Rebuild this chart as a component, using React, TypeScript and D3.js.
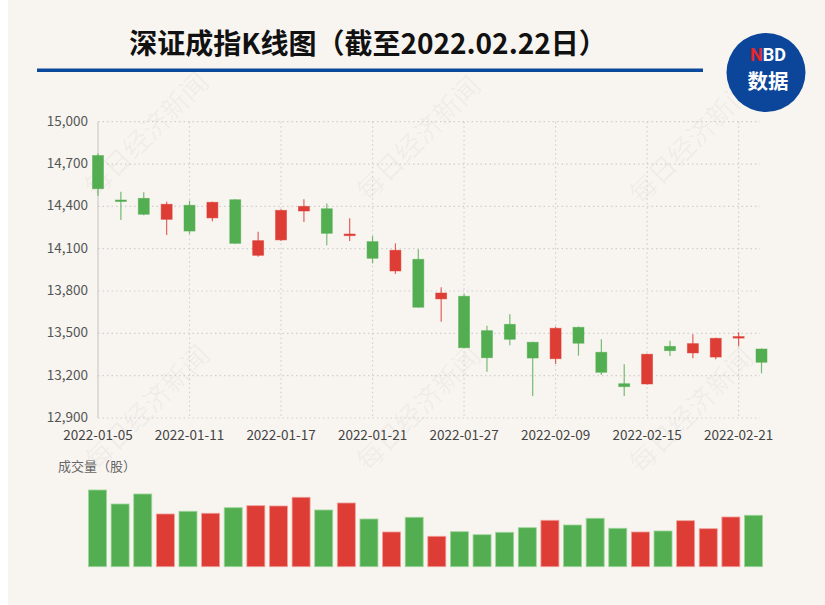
import * as d3 from "d3";

const DATES = [
  "2022-01-05", "2022-01-06", "2022-01-07", "2022-01-10", "2022-01-11", "2022-01-12",
  "2022-01-13", "2022-01-14", "2022-01-17", "2022-01-18", "2022-01-19", "2022-01-20",
  "2022-01-21", "2022-01-24", "2022-01-25", "2022-01-26", "2022-01-27", "2022-01-28",
  "2022-02-07", "2022-02-08", "2022-02-09", "2022-02-10", "2022-02-11", "2022-02-14",
  "2022-02-15", "2022-02-16", "2022-02-17", "2022-02-18", "2022-02-21", "2022-02-22",
];
const OPEN = [
  14760, 14445, 14457, 14308, 14408, 14318, 14447, 14053, 14162, 14367, 14383, 14192, 14150, 13942, 14025,
  13744, 13763, 13519, 13564, 13437, 13320, 13543, 13366, 13143, 13141, 13408, 13361, 13332, 13467, 13389,
];
const CLOSE = [
  14525, 14438, 14344, 14415, 14225, 14429, 14138, 14157, 14372, 14400, 14209, 14204, 14032, 14089, 13685,
  13786, 13398, 13327, 13458, 13325, 13536, 13430, 13224, 13122, 13352, 13377, 13427, 13465, 13477, 13295,
];
const HIGH = [
  14775, 14504, 14500, 14433, 14440, 14432, 14450, 14220, 14380, 14450, 14420, 14315, 14190, 14138, 14096,
  13826, 13779, 13554, 13635, 13440, 13547, 13548, 13458, 13281, 13355, 13448, 13493, 13468, 13508, 13392,
];
const LOW = [
  14475, 14303, 14337, 14197, 14204, 14294, 14135, 14043, 14155, 14290, 14124, 14154, 13996, 13921, 13683,
  13583, 13395, 13228, 13415, 13056, 13283, 13342, 13205, 13056, 13138, 13339, 13323, 13316, 13408, 13217,
];
// 成交量（亿股，按图估读）
const VOLUME = [
  537, 439, 509, 369, 388, 374, 413, 427, 425, 486, 397, 446, 334, 243, 346,
  213, 245, 224, 241, 273, 325, 292, 339, 269, 243, 250, 322, 266, 348, 360,
];
const Y_TICKS = [12900, 13200, 13500, 13800, 14100, 14400, 14700, 15000];
const X_LABELS = [
  "2022-01-05", "2022-01-11", "2022-01-17", "2022-01-21",
  "2022-01-27", "2022-02-09", "2022-02-15", "2022-02-21",
];

const BG = "#f8f5f1";
const UP = "#dd3d35";
const DOWN = "#53ad51";
const FONT = "'Noto Sans CJK SC', 'Noto Sans', sans-serif";

export default function App() {
  const plot = { left: 98, right: 760, top: 121.7, bottom: 418 };

  const x = d3.scalePoint<string>().domain(DATES).range([98, 761.5]);
  const y = d3.scaleLinear().domain([12900, 15000]).range([plot.bottom, plot.top]);
  const xv = d3.scalePoint<string>().domain(DATES).range([97.5, 753.5]);
  const yv = d3.scaleLinear().domain([0, 560]).range([566.7, 486.7]);

  const candles = DATES.map((d, i) => ({
    date: d,
    open: OPEN[i],
    close: CLOSE[i],
    high: HIGH[i],
    low: LOW[i],
    vol: VOLUME[i],
    up: CLOSE[i] >= OPEN[i],
  }));

  const watermarks: [number, number][] = [
    [145, 133], [417, 137], [690, 140],
    [146, 406], [417, 407], [690, 409],
  ];

  return (
    <svg
      width={825}
      height={605}
      style={{ position: "absolute", left: 0, top: 0, display: "block" }}
    >
      <rect x={0} y={0} width={825} height={605} fill="#ffffff" />
      <rect x={8} y={0} width={817} height={605} fill={BG} />

      {/* watermark */}
      {watermarks.map(([cx, cy], i) => (
        <text
          key={i}
          transform={`translate(${cx},${cy}) rotate(-45)`}
          textAnchor="middle"
          dominantBaseline="central"
          fontFamily={FONT}
          fontSize={27}
          fill="#000"
          fillOpacity={0.05}
        >
          每日经济新闻
        </text>
      ))}

      {/* title */}
      <text
        x={368}
        y={54}
        textAnchor="middle"
        fontFamily={FONT}
        fontWeight="bold"
        fontSize={28}
        fill="#111"
      >
        深证成指K线图（截至2022.02.22日）
      </text>
      <rect x={37} y={68.5} width={666} height={3.5} fill="#0b4a9b" />

      {/* logo */}
      <circle cx={766} cy={72.5} r={39.5} fill="#0b469a" />
      <text x={768} y={60.5} textAnchor="middle" fontFamily="Roboto, sans-serif" fontWeight="bold" fontSize={18} fill="#ffffff">
        <tspan fill="#e8262a">N</tspan>BD
      </text>
      <text x={768} y={88.5} textAnchor="middle" fontFamily={FONT} fontWeight="bold" fontSize={20.5} fill="#ffffff">
        数据
      </text>

      {/* grid */}
      {Y_TICKS.map((t) => (
        <g key={t}>
          <line
            x1={plot.left}
            x2={plot.right}
            y1={y(t)}
            y2={y(t)}
            stroke="#cfcfcf"
            strokeWidth={1.2}
            strokeDasharray="1.5,3"
          />
          <text
            x={88}
            y={y(t) + 4}
            textAnchor="end"
            fontFamily={FONT}
            fontSize={13.5}
            fill="#555"
          >
            {d3.format(",")(t)}
          </text>
        </g>
      ))}
      {X_LABELS.map((d) => (
        <g key={d}>
          {d !== X_LABELS[0] && (
            <line
              x1={x(d)}
              x2={x(d)}
              y1={plot.top}
              y2={plot.bottom}
              stroke="#cfcfcf"
              strokeWidth={1.2}
              strokeDasharray="1.5,3"
            />
          )}
          <text x={x(d)} y={440} textAnchor="middle" fontFamily={FONT} fontSize={13.5} fill="#444">
            {d}
          </text>
        </g>
      ))}
      <line x1={plot.left} x2={plot.left} y1={plot.top} y2={plot.bottom} stroke="#cccccc" strokeWidth={1.2} />

      {/* candles */}
      {candles.map((c) => {
        const cx = x(c.date) as number;
        const color = c.up ? UP : DOWN;
        const top = y(Math.max(c.open, c.close));
        const bot = y(Math.min(c.open, c.close));
        const h = Math.max(bot - top, 1.5);
        return (
          <g key={c.date}>
            <line x1={cx} x2={cx} y1={y(c.high)} y2={y(c.low)} stroke={color} strokeOpacity={0.8} strokeWidth={1.2} />
            <rect x={cx - 5.5} y={top} width={11} height={h} fill={color} stroke={color} strokeOpacity={0.6} strokeWidth={0.8} />
          </g>
        );
      })}

      {/* volume */}
      <text x={58} y={471} fontFamily={FONT} fontSize={13} fill="#666">
        成交量（股）
      </text>
      {candles.map((c) => {
        const cx = xv(c.date) as number;
        const color = c.up ? UP : DOWN;
        return (
          <rect
            key={c.date}
            x={cx - 9}
            y={yv(c.vol)}
            width={18}
            height={yv(0) - yv(c.vol)}
            fill={color}
            stroke={c.up ? "#f0a09a" : "#9fd69c"}
            strokeWidth={0.8}
          />
        );
      })}
    </svg>
  );
}
